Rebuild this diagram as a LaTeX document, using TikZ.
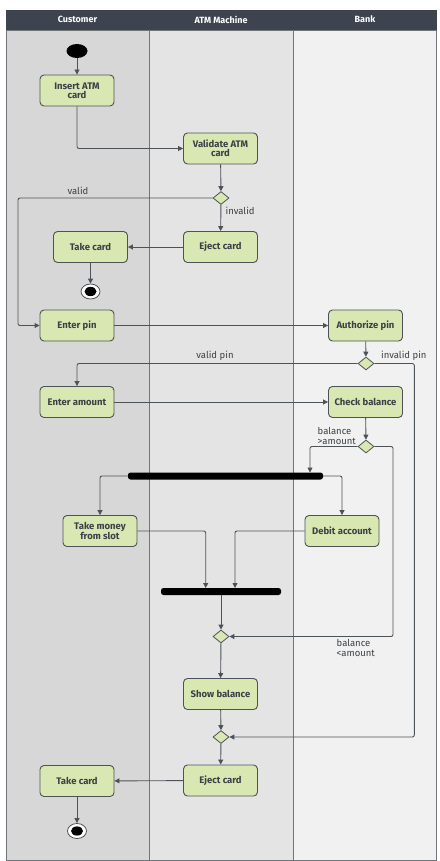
\documentclass[tikz,border=0pt]{standalone}
\usepackage{fontspec}
\setmainfont{Fira Sans}
\usetikzlibrary{arrows.meta,shapes.geometric}
\definecolor{hdr}{HTML}{3D4450}
\definecolor{laneA}{HTML}{D7D7D7}
\definecolor{laneB}{HTML}{E4E4E4}
\definecolor{laneC}{HTML}{F1F1F1}
\definecolor{edge}{HTML}{4D5257}
\definecolor{actfill}{HTML}{D9E7B2}
\definecolor{txt}{HTML}{3B4046}
\begin{document}
\begin{tikzpicture}[x=1pt,y=-1pt,
 act/.style={draw=edge, fill=actfill, rounded corners=4pt, minimum width=74pt, minimum height=31pt, inner sep=1pt, align=center, font=\fontsize{9.5}{9}\selectfont\bfseries, text=txt, line width=0.9pt},
 dec/.style={diamond, draw=edge, fill=actfill, minimum width=16pt, minimum height=13pt, inner sep=0pt, line width=0.8pt},
 bar/.style={fill=black, rounded corners=2.5pt, minimum height=7pt, inner sep=0pt},
 flow/.style={draw=edge, line width=0.9pt, rounded corners=2pt, -{Triangle[length=5pt,width=5pt]}},
 lbl/.style={font=\fontsize{9.5}{10}\selectfont, text=txt, inner sep=0pt},
 hd/.style={font=\fontsize{9}{10}\selectfont\bfseries, text=white},
 lane/.style={draw=edge!80, line width=0.8pt}
]
\useasboundingbox[fill=white] (0,0) rectangle (439,861);
% lanes
\path[fill=laneA] (6,30) rectangle (149,860);
\path[fill=laneB] (149,30) rectangle (293,860);
\path[fill=laneC] (293,30) rectangle (436.5,860);
\draw[lane] (149,30) -- (149,860);
\draw[lane] (293,30) -- (293,860);
\draw[lane] (6,30) rectangle (436.5,860);
\path[fill=hdr] (6,10) rectangle (436.5,30);
\node[hd] (h1) at (77.5,19.5) {Customer};
\node[hd] (h2) at (221,19.5) {ATM Machine};
\node[hd] (h3) at (365,19.5) {Bank};

% nodes
\node[ellipse, fill=black, minimum width=21pt, minimum height=14pt, inner sep=0pt] (start) at (77,51) {};
\node[act] (insert) at (77,90.5) {Insert ATM\\card};
\node[act] (validate) at (220.5,148.5) {Validate ATM\\card};
\node[dec] (d1) at (221,198) {};
\node[act] (eject1) at (220.5,247) {Eject card};
\node[act] (take1) at (90.5,247) {Take card};
\node[ellipse, draw=edge, fill=white, line width=0.8pt, minimum width=19pt, minimum height=15pt, inner sep=0pt] (end1) at (90.5,291.5) {};
\fill[black] (end1.center) ellipse [x radius=6pt, y radius=4.6pt];
\node[act] (enterpin) at (77,325.5) {Enter pin};
\node[act] (authpin) at (365.5,325.5) {Authorize pin};
\node[dec] (d2) at (366,363.5) {};
\node[act] (enteramt) at (77,402) {Enter amount};
\node[act] (checkbal) at (365.5,402) {Check balance};
\node[dec] (d3) at (366,446.5) {};
\node[bar, minimum width=195pt] (fork) at (225.5,476) {};
\node[act] (takemoney) at (100,531) {Take money\\from slot};
\node[act] (debit) at (342,531) {Debit account};
\node[bar, minimum width=120pt] (join) at (221,591.5) {};
\node[dec] (d5) at (221,636.5) {};
\node[act] (show) at (220.5,694) {Show balance};
\node[dec] (d6) at (221,737) {};
\node[act] (eject2) at (220.5,780.5) {Eject card};
\node[act] (take2) at (77,781) {Take card};
\node[ellipse, draw=edge, fill=white, line width=0.8pt, minimum width=19pt, minimum height=15pt, inner sep=0pt] (end2) at (77,831) {};
\fill[black] (end2.center) ellipse [x radius=6pt, y radius=4.6pt];

% helper coordinates
\coordinate (v1) at (18,198);
\coordinate (ip) at (414.3,363.5);
\coordinate (fkin) at (310,472.5);
\coordinate (lt) at (393,446.5);
\coordinate (j1) at (205.7,588);
\coordinate (j2) at (235,588);

% connectors
\draw[flow] (start) -- (insert);
\draw[flow] (insert.south) |- (validate.west);
\draw[flow] (validate) -- (d1);
\draw[flow] (d1) -- (eject1);
\draw[flow] (eject1) -- (take1);
\draw[flow] (take1) -- (end1);
\draw[flow] (d1.west) -- (v1) |- (enterpin.west);
\draw[flow] (enterpin) -- (authpin);
\draw[flow] (authpin) -- (d2);
\draw[flow] (d2.west) -| (enteramt.north);
\draw[flow] (d2.east) -- (ip) |- (d6.east);
\draw[flow] (enteramt) -- (checkbal);
\draw[flow] (checkbal) -- (d3);
\draw[flow] (d3.west) -| (fkin);
\draw[flow] (d3.east) -- (lt) |- (d5.east);
\draw[flow] (fork.west) -| (takemoney.north);
\draw[flow] (fork.east) -| (debit.north);
\draw[flow] (takemoney.east) -| (j1);
\draw[flow] (debit.west) -| (j2);
\draw[flow] (join) -- (d5);
\draw[flow] (d5) -- (show);
\draw[flow] (show) -- (d6);
\draw[flow] (d6) -- (eject2);
\draw[flow] (eject2) -- (take2);
\draw[flow] (take2) -- (end2);

% labels
\node[lbl] (lvalid) at (78,190.5) {valid};
\node[lbl, anchor=west] (linvalid) at (225.5,210.5) {invalid};
\node[lbl] (lvpin) at (215,356) {valid pin};
\node[lbl, anchor=west] (lipin) at (381,356) {invalid pin};
\node[lbl, anchor=west, align=left] (lgt) at (317.5,435.5) {balance\\>amount};
\node[lbl, anchor=west, align=left] (llt) at (336.5,647.5) {balance\\<amount};
\end{tikzpicture}
\end{document}
